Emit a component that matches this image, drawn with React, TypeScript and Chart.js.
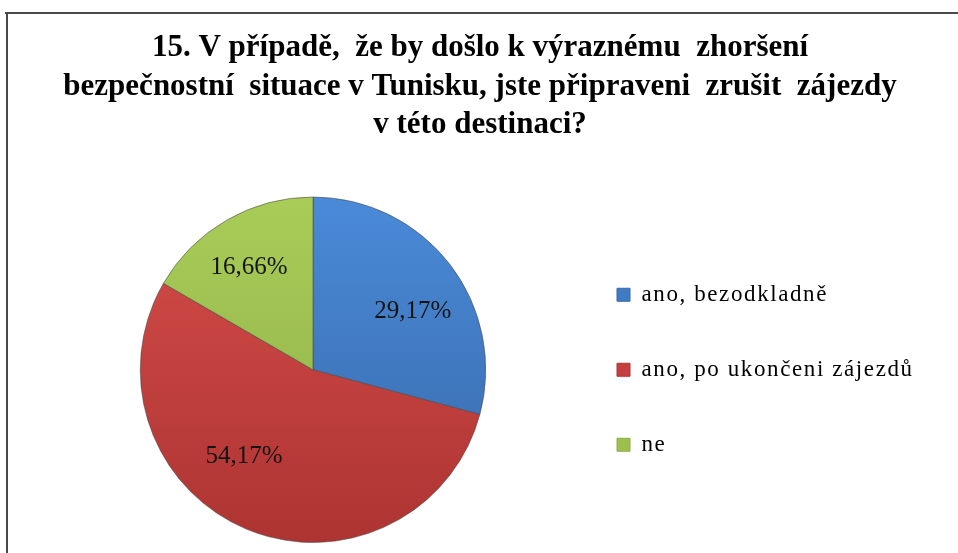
import React, { useEffect, useRef } from "react";
import { Chart, registerables } from "chart.js";

Chart.register(...registerables);

const categories = ["ano, bezodkladně", "ano, po ukončeni zájezdů", "ne"];
const values = [29.17, 54.17, 16.66];
const titleLines = [
  "15. V případě,  že by došlo k výraznému  zhoršení",
  "bezpečnostní  situace v Tunisku, jste připraveni  zrušit  zájezdy",
  "v této destinaci?",
];

const colorsTop = ["#4a8ad8", "#d64d4a", "#a9cc58"];
const colorsBottom = ["#3768a8", "#ad3432", "#8eae47"];
const colorsFlat = ["#3f7cc4", "#c43f3d", "#9cc04e"];

const labelAngleShift = [7, 16, -2];
const labelRadius = [0.67, 0.64, 0.7];

const W = 958;
const H = 553;
const LEGEND_FONT = 23;
const LEGEND_BOX = 13;
const LEGEND_PAD = 52;
const LEGEND_SPACING = 1.6;
const SERIF = "'Liberation Serif', 'Times New Roman', serif";

const PIE_CENTER_X = 313;
const TITLE_CENTER_X = 480;
const LEGEND_ITEM_LEFT = 617;

const LEGEND_LEFT = LEGEND_ITEM_LEFT - LEGEND_PAD;
const PAD_LEFT = 2 * PIE_CENTER_X - LEGEND_LEFT;
const PAD_RIGHT = PAD_LEFT + W - 2 * TITLE_CENTER_X;
const LEGEND_WIDTH = W - PAD_RIGHT - LEGEND_LEFT;

function formatPct(v: number) {
  return v.toFixed(2).replace(".", ",") + "%";
}

const framePlugin = {
  id: "frame",
  beforeDraw(chart: any) {
    const c = chart.ctx;
    c.save();
    c.fillStyle = "#ffffff";
    c.fillRect(0, 0, chart.width, chart.height);
    c.strokeStyle = "#4a4a4a";
    c.lineWidth = 2;
    c.beginPath();
    c.moveTo(5, 13);
    c.lineTo(chart.width, 13);
    c.moveTo(7, 12);
    c.lineTo(7, chart.height);
    c.stroke();
    c.restore();
  },
};

const pctLabelPlugin = {
  id: "pctLabels",
  afterDatasetsDraw(chart: any) {
    const meta = chart.getDatasetMeta(0);
    const c = chart.ctx;
    c.save();
    c.font = `25px ${SERIF}`;
    c.fillStyle = "#141414";
    c.textAlign = "center";
    c.textBaseline = "middle";
    meta.data.forEach((arc: any, i: number) => {
      const p = arc.getProps(["x", "y", "startAngle", "endAngle", "outerRadius"], true);
      const mid = (p.startAngle + p.endAngle) / 2 + (labelAngleShift[i] * Math.PI) / 180;
      const r = p.outerRadius * labelRadius[i];
      c.fillText(formatPct(values[i]), p.x + Math.cos(mid) * r, p.y + Math.sin(mid) * r);
    });
    c.restore();
  },
};

// legend text is letter-spaced; the legend box keeps a fixed width so that
// the title stays centred, and its clip is widened to the canvas edge
const legendSpacingPlugin = {
  id: "legendSpacing",
  afterInit(chart: any) {
    const lg = chart.legend;
    const c = chart.ctx as any;
    const origFit = lg.fit.bind(lg);
    lg.fit = () => {
      c.letterSpacing = `${LEGEND_SPACING}px`;
      origFit();
      c.letterSpacing = "0px";
      lg.width = LEGEND_WIDTH;
    };
    const origDraw = lg.draw.bind(lg);
    lg.draw = (...args: any[]) => {
      const r = lg.right;
      lg.right = chart.width;
      c.letterSpacing = `${LEGEND_SPACING}px`;
      origDraw(...args);
      c.letterSpacing = "0px";
      lg.right = r;
    };
  },
};

export default function App() {
  const ref = useRef<HTMLCanvasElement | null>(null);

  useEffect(() => {
    if (!ref.current) return;

    const chart = new Chart(ref.current, {
      type: "pie",
      data: {
        labels: categories,
        datasets: [
          {
            data: values,
            backgroundColor: (ctx: any) => {
              const i = ctx.dataIndex;
              const area = ctx.chart.chartArea;
              if (!area) return colorsFlat[i];
              const g = ctx.chart.ctx.createLinearGradient(0, area.top, 0, area.bottom);
              g.addColorStop(0, colorsTop[i]);
              g.addColorStop(1, colorsBottom[i]);
              return g;
            },
            borderColor: "rgba(70,70,70,0.55)",
            borderWidth: 1,
          },
        ],
      },
      options: {
        responsive: false,
        animation: false,
        layout: {
          padding: { left: PAD_LEFT, right: PAD_RIGHT, top: 0, bottom: 10 },
        },
        plugins: {
          title: {
            display: true,
            text: titleLines,
            color: "#000000",
            font: { family: SERIF, size: 31, weight: "bold", lineHeight: 1.242 },
            padding: { top: 29, bottom: 52 },
          },
          legend: {
            position: "right",
            fullSize: false,
            labels: {
              boxWidth: LEGEND_BOX,
              boxHeight: LEGEND_BOX,
              padding: LEGEND_PAD,
              color: "#000000",
              font: { family: SERIF, size: LEGEND_FONT },
              generateLabels: () =>
                categories.map((t, i) => ({
                  text: t,
                  fillStyle: colorsFlat[i],
                  strokeStyle: colorsBottom[i],
                  lineWidth: 1,
                  hidden: false,
                  index: i,
                  datasetIndex: 0,
                })),
            },
          },
          tooltip: { enabled: false },
        },
      },
      plugins: [framePlugin, pctLabelPlugin, legendSpacingPlugin],
    });
    return () => chart.destroy();
  }, []);

  return (
    <div style={{ position: "absolute", left: 0, top: 0, width: W, height: H }}>
      <canvas ref={ref} width={W} height={H} style={{ display: "block", width: W, height: H }} />
    </div>
  );
}
